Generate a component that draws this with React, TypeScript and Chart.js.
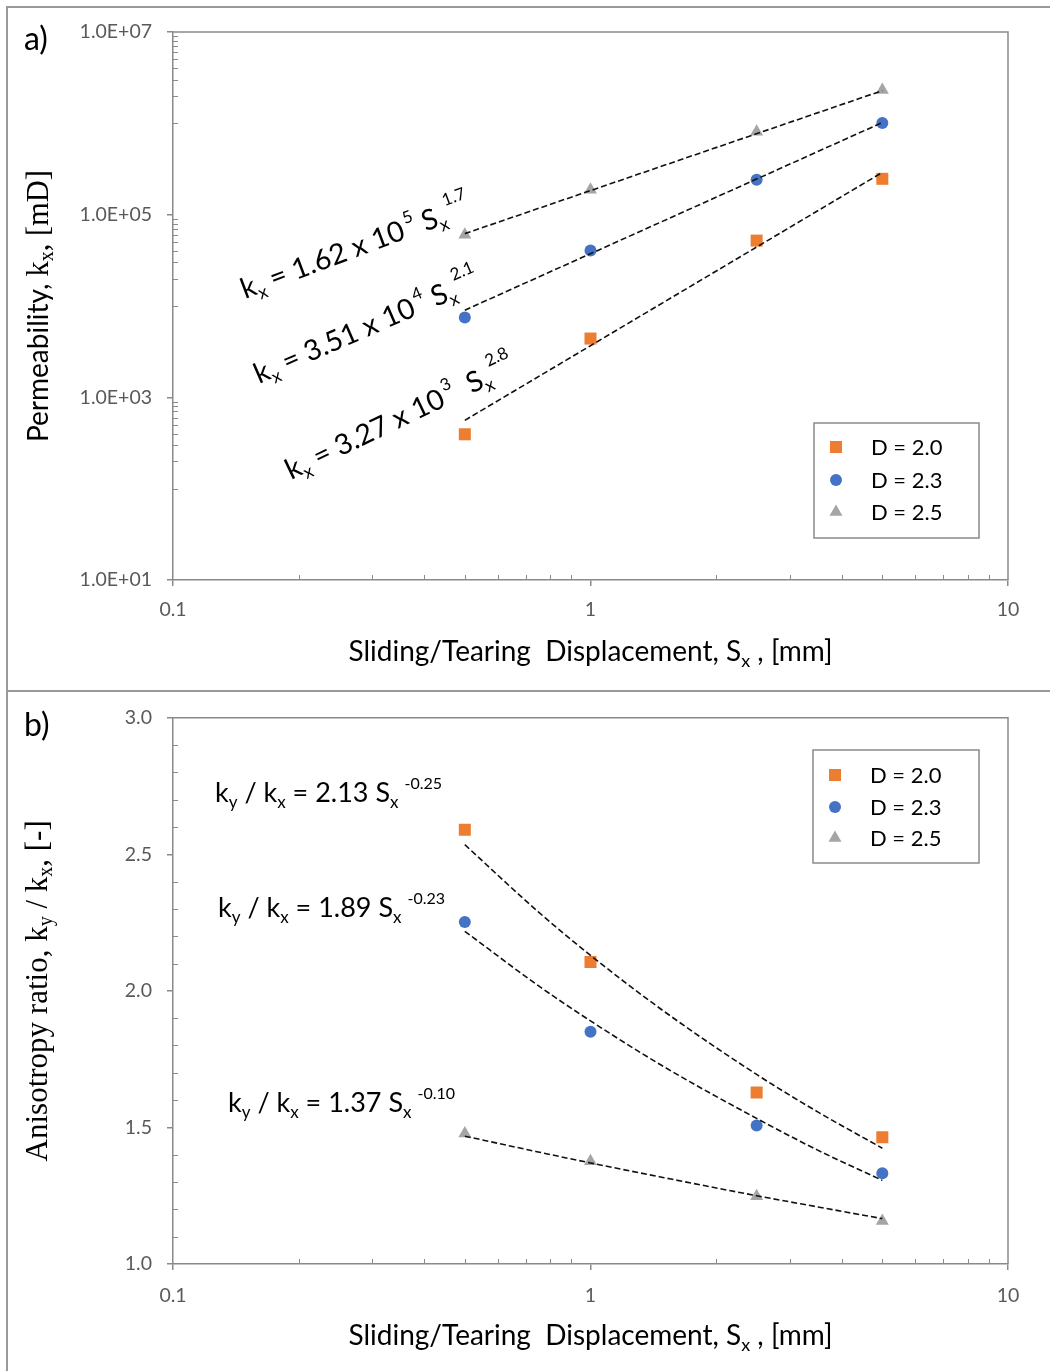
import React, { useEffect, useRef } from "react";
import { Chart, registerables } from "chart.js";
Chart.register(...registerables);

// ---------- data ----------
const SX = [0.5, 1, 2.5, 5];
const SERIES_LABELS = ["D = 2.0", "D = 2.3", "D = 2.5"];
const COLORS = ["#ED7D31", "#4472C4", "#A5A5A5"];
const STYLES = ["rect", "circle", "triangle"];

// panel a: permeability kx [mD]
const A_D20 = [394, 4400, 52000, 247000];
const A_D23 = [7500, 40400, 241000, 1010000];
const A_D25 = [60400, 187000, 807000, 2320000];
const A_TREND_X = [0.5, 5];
const A_TREND_D20 = [560, 290000];
const A_TREND_D23 = [9000, 1020000];
const A_TREND_D25 = [62000, 2280000];

// panel b: anisotropy ratio ky/kx
const B_D20 = [2.59, 2.106, 1.628, 1.464];
const B_D23 = [2.252, 1.85, 1.507, 1.332];
const B_D25 = [1.478, 1.376, 1.248, 1.157];
const B_TREND_X = [0.5, 0.75, 1, 1.5, 2.5, 3.5, 5];
const B_TREND_D20 = [2.535, 2.289, 2.13, 1.925, 1.694, 1.557, 1.424];
const B_TREND_D23 = [2.218, 2.019, 1.89, 1.722, 1.533, 1.417, 1.306];
const B_TREND_D25 = [1.468, 1.41, 1.37, 1.316, 1.25, 1.209, 1.166];

// ticks
const X_TICKS = [0.1, 1, 10];
const X_TICK_LABELS = ["0.1", "1", "10"];
const A_Y_TICKS = [10, 1000, 100000, 10000000];
const A_Y_TICK_LABELS = ["1.0E+01", "1.0E+03", "1.0E+05", "1.0E+07"];
const B_Y_TICKS = [1.0, 1.5, 2.0, 2.5, 3.0];
const B_Y_TICK_LABELS = ["1.0", "1.5", "2.0", "2.5", "3.0"];

// ---------- styling ----------
const SANS = "Lato, 'Open Sans', sans-serif";
const SERIF = "'Liberation Serif', 'DejaVu Serif', serif";
const AXIS = "#8a8a8a";
const TICK_TXT = "#595959";
const W = 1050;

type Seg = { t: string; f?: string; s: number; dy?: number; dx?: number };

function drawRich(ctx: CanvasRenderingContext2D, segs: Seg[], x: number, y: number, angle: number, align: "left" | "center", color = "#000") {
  ctx.save();
  ctx.translate(x, y);
  ctx.rotate(angle);
  ctx.textAlign = "left";
  ctx.textBaseline = "alphabetic";
  ctx.fillStyle = color;
  let total = 0;
  for (const g of segs) {
    ctx.font = `${g.s}px ${g.f || SANS}`;
    total += ctx.measureText(g.t).width + (g.dx || 0);
  }
  let cx = align === "center" ? -total / 2 : 0;
  for (const g of segs) {
    ctx.font = `${g.s}px ${g.f || SANS}`;
    cx += g.dx || 0;
    ctx.fillText(g.t, cx, g.dy || 0);
    cx += ctx.measureText(g.t).width;
  }
  ctx.restore();
}

function drawMarker(ctx: CanvasRenderingContext2D, style: string, x: number, y: number, color: string) {
  ctx.save();
  ctx.fillStyle = color;
  if (style === "rect") {
    ctx.fillRect(x - 6, y - 6, 12, 12);
  } else if (style === "circle") {
    ctx.beginPath();
    ctx.arc(x, y, 6, 0, Math.PI * 2);
    ctx.fill();
  } else {
    const r = 7.5;
    ctx.beginPath();
    ctx.moveTo(x, y - r);
    ctx.lineTo(x + r * 0.866, y + r * 0.5);
    ctx.lineTo(x - r * 0.866, y + r * 0.5);
    ctx.closePath();
    ctx.fill();
  }
  ctx.restore();
}

function pts(xs: number[], ys: number[]) {
  return xs.map((x, i) => ({ x, y: ys[i] }));
}

function buildDatasets(pointsY: number[][], trendX: number[], trendY: number[][], smooth: boolean) {
  const ds: any[] = [];
  trendY.forEach((ty) => {
    ds.push({
      data: pts(trendX, ty),
      showLine: true,
      borderColor: "#111",
      borderWidth: 1.6,
      borderDash: [6, 3],
      pointRadius: 0,
      fill: false,
      tension: smooth ? 0.4 : 0,
      cubicInterpolationMode: smooth ? "monotone" : "default",
      order: 0,
    });
  });
  pointsY.forEach((py, i) => {
    ds.push({
      data: pts(SX, py),
      showLine: false,
      pointStyle: STYLES[i],
      pointRadius: STYLES[i] === "rect" ? 8.5 : STYLES[i] === "circle" ? 6 : 7.5,
      pointBackgroundColor: COLORS[i],
      pointBorderWidth: 0,
      borderColor: COLORS[i],
      backgroundColor: COLORS[i],
      order: 1,
    });
  });
  return ds;
}

function minorX(): number[] {
  const out: number[] = [];
  for (const base of [0.1, 1]) for (let k = 2; k <= 9; k++) out.push(k * base);
  return out;
}

function makeFramePlugin(opts: {
  minorY: number[];
  letter: string;
  letterY: number;
  yTitle: Seg[];
  yTitleX: number;
  annotations: { segs: Seg[]; x: number; y: number; angle: number }[];
  legend: { x0: number; y0: number; x1: number; y1: number; rows: number[] };
}) {
  return {
    id: "frame",
    afterDraw(chart: any) {
      const ctx: CanvasRenderingContext2D = chart.ctx;
      const a = chart.chartArea;
      const xs = chart.scales.x;
      const ys = chart.scales.y;
      ctx.save();
      // top and right frame of plot area
      ctx.strokeStyle = AXIS;
      ctx.lineWidth = 1.5;
      ctx.beginPath();
      ctx.moveTo(a.left, a.top);
      ctx.lineTo(a.right, a.top);
      ctx.lineTo(a.right, a.bottom);
      ctx.stroke();
      // minor ticks (inside)
      ctx.lineWidth = 1;
      ctx.beginPath();
      for (const v of minorX()) {
        const px = Math.round(xs.getPixelForValue(v)) + 0.5;
        ctx.moveTo(px, a.bottom);
        ctx.lineTo(px, a.bottom - 5);
      }
      for (const v of opts.minorY) {
        const py = Math.round(ys.getPixelForValue(v)) + 0.5;
        ctx.moveTo(a.left, py);
        ctx.lineTo(a.left + 5, py);
      }
      ctx.stroke();
      // panel letter
      ctx.fillStyle = "#000";
      ctx.font = `32px ${SANS}`;
      ctx.textAlign = "left";
      ctx.textBaseline = "alphabetic";
      ctx.fillText(opts.letter, 24, opts.letterY);
      // x axis title
      drawRich(
        ctx,
        [
          { t: "Sliding/Tearing  Displacement, S", s: 28 },
          { t: "x", s: 18, dy: 6 },
          { t: " , [mm]", s: 28 },
        ],
        (a.left + a.right) / 2,
        a.bottom + 81,
        0,
        "center"
      );
      // y axis title
      drawRich(ctx, opts.yTitle, opts.yTitleX, (a.top + a.bottom) / 2, -Math.PI / 2, "center");
      // annotations
      for (const an of opts.annotations) drawRich(ctx, an.segs, an.x, an.y, an.angle, "left");
      // legend
      const L = opts.legend;
      ctx.strokeStyle = AXIS;
      ctx.lineWidth = 1.5;
      ctx.strokeRect(L.x0, L.y0, L.x1 - L.x0, L.y1 - L.y0);
      L.rows.forEach((ry, i) => {
        drawMarker(ctx, STYLES[i], L.x0 + 22, ry, COLORS[i]);
        ctx.fillStyle = "#000";
        ctx.font = `22px ${SANS}`;
        ctx.textBaseline = "middle";
        ctx.fillText(SERIES_LABELS[i], L.x0 + 57, ry + 1);
      });
      ctx.restore();
    },
  };
}

function axisCommon(ticks: number[], labels: string[], sizeCb: (s: any) => void, pad: number) {
  return {
    afterFit: sizeCb,
    afterBuildTicks: (s: any) => {
      s.ticks = ticks.map((v) => ({ value: v }));
    },
    ticks: {
      callback: (_v: any, i: number) => labels[i],
      font: { family: SANS, size: 19.5 },
      color: TICK_TXT,
      padding: pad,
      autoSkip: false,
      maxRotation: 0,
      minRotation: 0,
    },
    grid: { display: true, drawOnChartArea: false, drawTicks: true, tickLength: 6, color: AXIS, lineWidth: 1.5 },
    border: { display: true, color: AXIS, width: 1.5 },
  };
}

const M = 28.5;
const SUB = 18;
const SUP = 17;
const MB = 27;
const SUBB = 17;
const SUPB = 16;

function ChartA() {
  const ref = useRef<HTMLCanvasElement>(null);
  useEffect(() => {
    const minorY: number[] = [];
    for (const base of [10, 1000, 100000]) for (let k = 1; k <= 9; k++) minorY.push(k * base * 10);
    const kx = (c: string, e: string, sp: string, sup: string): Seg[] => [
      { t: "k", s: M },
      { t: "x", s: SUB, dy: 6 },
      { t: ` = ${c} x 10`, s: M },
      { t: e, s: SUP, dy: -14, dx: 3 },
      { t: `${sp}S`, s: M },
      { t: "x", s: SUB, dy: 6 },
      { t: sup, s: SUP, dy: -17, dx: 2 },
    ];
    const plugin = makeFramePlugin({
      minorY,
      letter: "a)",
      letterY: 50,
      yTitle: [
        { t: "Permeability, ", s: 28 },
        { t: "k", s: 30.5, f: SERIF },
        { t: "x", s: 20, f: SERIF, dy: 5 },
        { t: ", [mD]", s: 30.5, f: SERIF },
      ],
      yTitleX: 48,
      annotations: [
        { segs: kx("1.62", "5", " ", "1.7"), x: 245, y: 299, angle: (-20.5 * Math.PI) / 180 },
        { segs: kx("3.51", "4", " ", "2.1"), x: 259, y: 384, angle: (-23.5 * Math.PI) / 180 },
        { segs: kx("3.27", "3", "  ", "2.8"), x: 291, y: 480, angle: (-25.5 * Math.PI) / 180 },
      ],
      legend: { x0: 814, y0: 423, x1: 979, y1: 538, rows: [447, 480, 512] },
    });
    const chart = new Chart(ref.current!, {
      type: "scatter",
      data: {
        datasets: buildDatasets([A_D20, A_D23, A_D25], A_TREND_X, [A_TREND_D20, A_TREND_D23, A_TREND_D25], false),
      },
      options: {
        animation: false,
        responsive: false,
        maintainAspectRatio: false,
        layout: { padding: { left: 0, right: W - 1008, top: 32, bottom: 0 } },
        plugins: { legend: { display: false }, tooltip: { enabled: false } },
        scales: {
          x: {
            type: "logarithmic",
            min: 0.1,
            max: 10,
            position: "bottom",
            ...axisCommon(X_TICKS, X_TICK_LABELS, (s: any) => { s.height = 691 - 580; }, 12),
          } as any,
          y: {
            type: "logarithmic",
            min: 10,
            max: 10000000,
            position: "left",
            ...axisCommon(A_Y_TICKS, A_Y_TICK_LABELS, (s: any) => { s.width = 173; }, 15),
          } as any,
        },
      },
      plugins: [plugin],
    });
    return () => chart.destroy();
  }, []);
  return <canvas ref={ref} width={W} height={691} style={{ position: "absolute", left: 0, top: 0, width: W, height: 691 }} />;
}

function ChartB() {
  const ref = useRef<HTMLCanvasElement>(null);
  useEffect(() => {
    const minorY: number[] = [];
    for (let i = 11; i < 30; i++) if (i % 5 !== 0) minorY.push(i / 10);
    const kr = (c: string, sup: string): Seg[] => [
      { t: "k", s: MB },
      { t: "y", s: SUBB, dy: 6 },
      { t: " / k", s: MB },
      { t: "x", s: SUBB, dy: 6 },
      { t: ` = ${c} S`, s: MB },
      { t: "x", s: SUBB, dy: 6 },
      { t: sup, s: SUPB, dy: -13, dx: 6 },
    ];
    const plugin = makeFramePlugin({
      minorY,
      letter: "b)",
      letterY: 736 - 691,
      yTitle: [
        { t: "Anisotropy ratio, k", s: 31, f: SERIF },
        { t: "y", s: 20, f: SERIF, dy: 5 },
        { t: " / k", s: 31, f: SERIF },
        { t: "x", s: 20, f: SERIF, dy: 5 },
        { t: ", [-]", s: 31, f: SERIF },
      ],
      yTitleX: 47,
      annotations: [
        { segs: kr("2.13", "-0.25"), x: 215, y: 802 - 691, angle: 0 },
        { segs: kr("1.89", "-0.23"), x: 218, y: 917 - 691, angle: 0 },
        { segs: kr("1.37", "-0.10"), x: 228, y: 1112 - 691, angle: 0 },
      ],
      legend: { x0: 813, y0: 750 - 691, x1: 979, y1: 863 - 691, rows: [775 - 691, 807 - 691, 838 - 691] },
    });
    const chart = new Chart(ref.current!, {
      type: "scatter",
      data: {
        datasets: buildDatasets([B_D20, B_D23, B_D25], B_TREND_X, [B_TREND_D20, B_TREND_D23, B_TREND_D25], true),
      },
      options: {
        animation: false,
        responsive: false,
        maintainAspectRatio: false,
        layout: { padding: { left: 0, right: W - 1008, top: 717 - 691, bottom: 0 } },
        plugins: { legend: { display: false }, tooltip: { enabled: false } },
        scales: {
          x: {
            type: "logarithmic",
            min: 0.1,
            max: 10,
            position: "bottom",
            ...axisCommon(X_TICKS, X_TICK_LABELS, (s: any) => { s.height = 1371 - 1264; }, 14),
          } as any,
          y: {
            type: "linear",
            min: 1,
            max: 3,
            position: "left",
            ...axisCommon(B_Y_TICKS, B_Y_TICK_LABELS, (s: any) => { s.width = 173; }, 15),
          } as any,
        },
      },
      plugins: [plugin],
    });
    return () => chart.destroy();
  }, []);
  return <canvas ref={ref} width={W} height={680} style={{ position: "absolute", left: 0, top: 691, width: W, height: 680 }} />;
}

export default function App() {
  return (
    <div style={{ position: "absolute", left: 0, top: 0, width: W, height: 1371, background: "#fff", overflow: "hidden" }}>
      <ChartA />
      <ChartB />
      <div style={{ position: "absolute", left: 6, top: 6, width: 2, height: 1365, background: "#999" }} />
      <div style={{ position: "absolute", left: 6, top: 6, width: W - 6, height: 2, background: "#999" }} />
      <div style={{ position: "absolute", left: 6, top: 690, width: W - 6, height: 2, background: "#999" }} />
    </div>
  );
}
